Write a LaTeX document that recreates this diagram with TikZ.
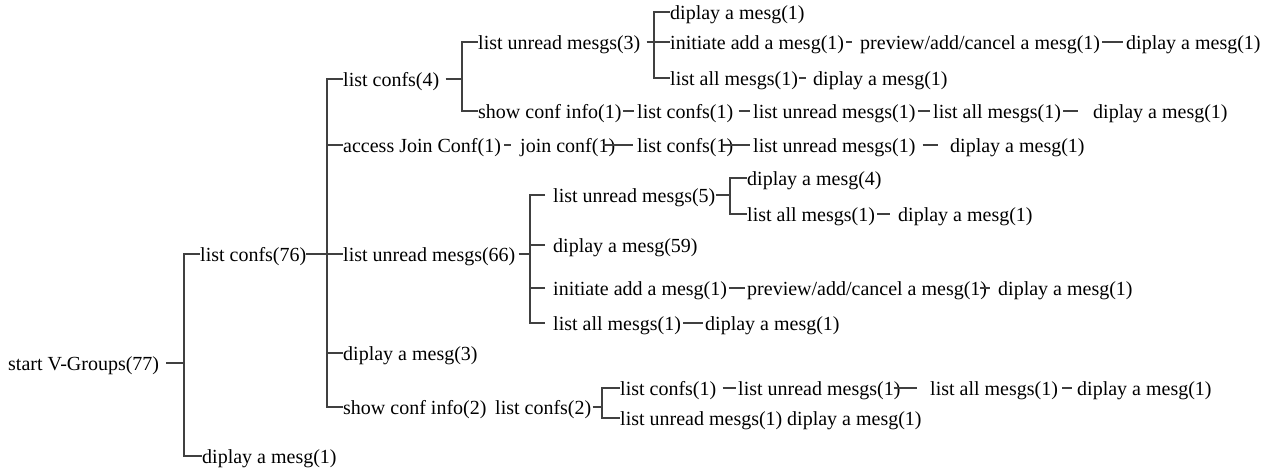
\documentclass[tikz,border=0pt]{standalone}
\usepackage{fontspec}
\setmainfont{Liberation Serif}
\usetikzlibrary{calc}

\begin{document}
\begin{tikzpicture}[x=1pt, y=-1pt,
        every node/.style={anchor=west, inner sep=0pt, text height=14pt, text depth=0pt, font=\fontsize{20}{24}\selectfont},
        link/.style={line width=1.2pt, draw=black!75}]
                        \useasboundingbox (0, 0) rectangle (1268, 472);
                        % first levels
                        \node (root) at (8, 363) {start V-Groups(77)};
                        \node (lc76) at (200, 254) {list confs(76)};
                        \node (dm1a) at (202, 456) {diplay a mesg(1)};
                        \node (lc4) at (343, 79) {list confs(4)};
                        \node (ajc) at (343, 145) {access Join Conf(1)};
                        \node (lum66) at (343, 254) {list unread mesgs(66)};
                        \node (dm3) at (343, 353) {diplay a mesg(3)};
                        \node (sci2) at (343, 407) {show conf info(2)};
                        % list confs(4)
                        \node (lum3) at (478, 42) {list unread mesgs(3)};
                        \node (sci1) at (478, 111) {show conf info(1)};
                        \node (dm1b) at (670, 12) {diplay a mesg(1)};
                        \node (ini1) at (670, 42) {initiate add a mesg(1)};
                        \node (prv1) at (860, 42) {preview/add/cancel a mesg(1)};
                        \node (dm1c) at (1126, 42) {diplay a mesg(1)};
                        \node (la1a) at (670, 78) {list all mesgs(1)};
                        \node (dm1d) at (813, 78) {diplay a mesg(1)};
                        \node (lc1a) at (637, 111) {list confs(1)};
                        \node (lum1a) at (753, 111) {list unread mesgs(1)};
                        \node (la1b) at (933, 111) {list all mesgs(1)};
                        \node (dm1e) at (1093, 111) {diplay a mesg(1)};
                        % access Join Conf(1)
                        \node (jc1) at (520, 145) {join conf(1)};
                        \node (lc1b) at (637, 145) {list confs(1)};
                        \node (lum1b) at (753, 145) {list unread mesgs(1)};
                        \node (dm1f) at (950, 145) {diplay a mesg(1)};
                        % list unread mesgs(66)
                        \node (lum5) at (553, 195) {list unread mesgs(5)};
                        \node (dm4) at (747, 178) {diplay a mesg(4)};
                        \node (la1c) at (747, 214) {list all mesgs(1)};
                        \node (dm1g) at (898, 214) {diplay a mesg(1)};
                        \node (dm59) at (553, 245) {diplay a mesg(59)};
                        \node (ini2) at (553, 288) {initiate add a mesg(1)};
                        \node (prv2) at (747, 288) {preview/add/cancel a mesg(1)};
                        \node (dm1h) at (998, 288) {diplay a mesg(1)};
                        \node (la1d) at (553, 323) {list all mesgs(1)};
                        \node (dm1i) at (705, 323) {diplay a mesg(1)};
                        % show conf info(2)
                        \node (lc2) at (495, 407) {list confs(2)};
                        \node (lc1c) at (620, 388) {list confs(1)};
                        \node (lum1d) at (738, 388) {list unread mesgs(1)};
                        \node (la1e) at (930, 388) {list all mesgs(1)};
                        \node (dm1j) at (1077, 388) {diplay a mesg(1)};
                        \node (lum1c) at (620, 418) {list unread mesgs(1)};
                        \node (dm1k) at (787, 418) {diplay a mesg(1)};
                        % bars
                        \coordinate (b1) at (184, 363);
                        \coordinate (b2) at (327, 254);
                        \coordinate (b3) at (462, 79);
                        \coordinate (b4) at (654, 42);
                        \coordinate (b5) at (530, 254);
                        \coordinate (b6) at (730, 195);
                        \coordinate (b7) at (602, 407);
                        \draw[link]
                        ([xshift=7]root.east) -- (b1)
                        (lc76.west) -| (b1) |- (dm1a.west)
                        (lc76.east) -- (lum66.west)
                        (lc4.west) -| (b2) |- (sci2.west)
                        (ajc.west) -- (ajc.west -| b2)
                        (dm3.west) -- (dm3.west -| b2)
                        ([xshift=6]lc4.east) -- (b3)
                        (lum3.west) -| (b3) |- (sci1.west)
                        ([xshift=6]lum3.east) -- (ini1.west)
                        (dm1b.west) -| (b4) |- (la1a.west)
                        ([xshift=2]ini1.east) -- ([xshift=-8]prv1.west)
                        ([xshift=2]prv1.east) -- ([xshift=-3]dm1c.west)
                        ([xshift=1]la1a.east) -- ([xshift=-7]dm1d.west)
                        ([xshift=1]sci1.east) -- ([xshift=-3]lc1a.west)
                        ([xshift=5]lc1a.east) -- ([xshift=-3]lum1a.west)
                        ([xshift=2]lum1a.east) -- ([xshift=-3]la1b.west)
                        ([xshift=2]la1b.east) -- ([xshift=-15]dm1e.west)
                        ([xshift=3]ajc.east) -- ([xshift=-9]jc1.west)
                        ([xshift=-12]jc1.east) -- ([xshift=-4]lc1b.west)
                        ([xshift=-12]lc1b.east) -- ([xshift=-3]lum1b.west)
                        ([xshift=7]lum1b.east) -- ([xshift=-12]dm1f.west)
                        ([xshift=3]lum66.east) -- (b5)
                        ([xshift=-8]lum5.west) -| (b5) |- ([xshift=-8]la1d.west)
                        ([xshift=-8]dm59.west) -- (dm59.west -| b5)
                        ([xshift=-8]ini2.west) -- (ini2.west -| b5)
                        (lum5.east) -- (b6)
                        (dm4.west) -| (b6) |- (la1c.west)
                        ([xshift=2]la1c.east) -- ([xshift=-8]dm1g.west)
                        ([xshift=2]ini2.east) -- ([xshift=-2]prv2.west)
                        ([xshift=-7]prv2.east) -- ([xshift=-8]dm1h.west)
                        ([xshift=2]la1d.east) -- ([xshift=-2]dm1i.west)
                        ([xshift=1]lc2.east) -- (b7)
                        (lc1c.west) -| (b7) |- (lum1c.west)
                        ([xshift=6]lc1c.east) -- ([xshift=-2]lum1d.west)
                        ([xshift=-7]lum1d.east) -- ([xshift=-13]la1e.west)
                        ([xshift=4]la1e.east) -- ([xshift=-5]dm1j.west);
                    \end{tikzpicture}
\end{document}
